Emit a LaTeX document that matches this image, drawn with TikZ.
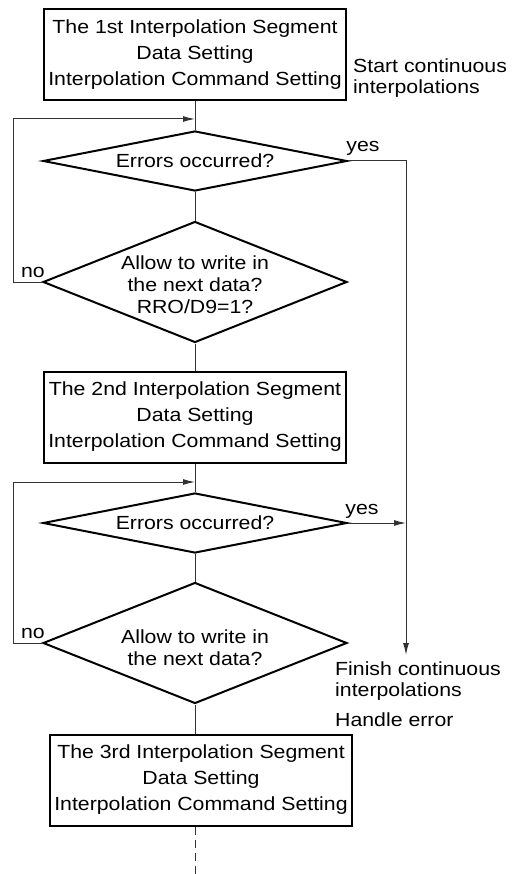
\documentclass[tikz,border=0pt]{standalone}
\usepackage{fontspec}
\setmainfont{Liberation Sans}[FakeStretch=1.12]
\usetikzlibrary{shapes.geometric,arrows.meta}

\begin{document}
\begin{tikzpicture}[x=1pt,y=-1pt,
    segbox/.style={draw, line width=2pt, minimum width=302pt, minimum height=91pt,
      align=center, inner sep=0pt, font=\fontsize{19}{26}\selectfont},
    decision/.style={draw, diamond, line width=2pt, minimum width=304pt, inner sep=0pt},
    qtext/.style={align=center, font=\fontsize{19}{22}\selectfont},
    note/.style={align=left, anchor=west, inner sep=0pt, font=\fontsize{19}{21}\selectfont},
    link/.style={black!80, line width=1pt},
    flow/.style={link, -{Latex[length=12pt,width=6pt]}}]
  \useasboundingbox (0,0) rectangle (512,874);

  % Segment boxes
  \node[segbox] (seg1) at (195,55) {The 1st Interpolation Segment\\Data Setting\\Interpolation Command Setting};
  \node[segbox] (seg2) at (195,417) {The 2nd Interpolation Segment\\Data Setting\\Interpolation Command Setting};
  \node[segbox] (seg3) at (201,780) {The 3rd Interpolation Segment\\Data Setting\\Interpolation Command Setting};

  % Decisions
  \node[decision, minimum height=60pt] (err1) at (195,161) {};
  \node[qtext] (err1txt) at (195,161) {Errors occurred?};
  \node[decision, minimum height=121pt] (wr1) at (195,282) {};
  \node[qtext] (wr1txt) at (195,285) {Allow to write in\\the next data?\\RRO/D9=1?};
  \node[decision, minimum height=60pt] (err2) at (195,523) {};
  \node[qtext] (err2txt) at (195,523) {Errors occurred?};
  \node[decision, minimum height=121pt] (wr2) at (195,643) {};
  \node[qtext] (wr2txt) at (195,648) {Allow to write in\\the next data?};

  % Side notes
  \node[note] (start) at (353,78) {Start continuous\\interpolations};
  \node[note] (finish) at (335,681) {Finish continuous\\interpolations};
  \node[note] (handle) at (335,720) {Handle error};
  \node[qtext] (yes1) at (363,148) {yes};
  \node[qtext] (yes2) at (362,511) {yes};
  \node[qtext] (no1) at (33,272) {no};
  \node[qtext] (no2) at (33,633) {no};

  % Joints
  \coordinate (join1) at (195,119);
  \coordinate (join2) at (195,482);
  \coordinate (fin) at (406,655);
  \coordinate (more) at (195,874);

  % Main flow
  \draw[link] (seg1) -- (err1);
  \draw[link] (err1) -- (wr1);
  \draw[link] (wr1) -- (seg2);
  \draw[link] (seg2) -- (err2);
  \draw[link] (err2) -- (wr2);
  \draw[link] (wr2.south) -- (wr2.south |- seg3.north);
  \draw[link, dashed, dash pattern=on 8pt off 5pt] (seg3.south -| more) -- (more);

  % Loops back
  \draw[flow] (wr1.west) -- ++(-29,0) |- (join1);
  \draw[flow] (wr2.west) -- ++(-29,0) |- (join2);

  % Error exits
  \draw[flow] (err1.east) -| (fin);
  \draw[flow] (err2.east) -- (err2.east -| fin);

\end{tikzpicture}
\end{document}
